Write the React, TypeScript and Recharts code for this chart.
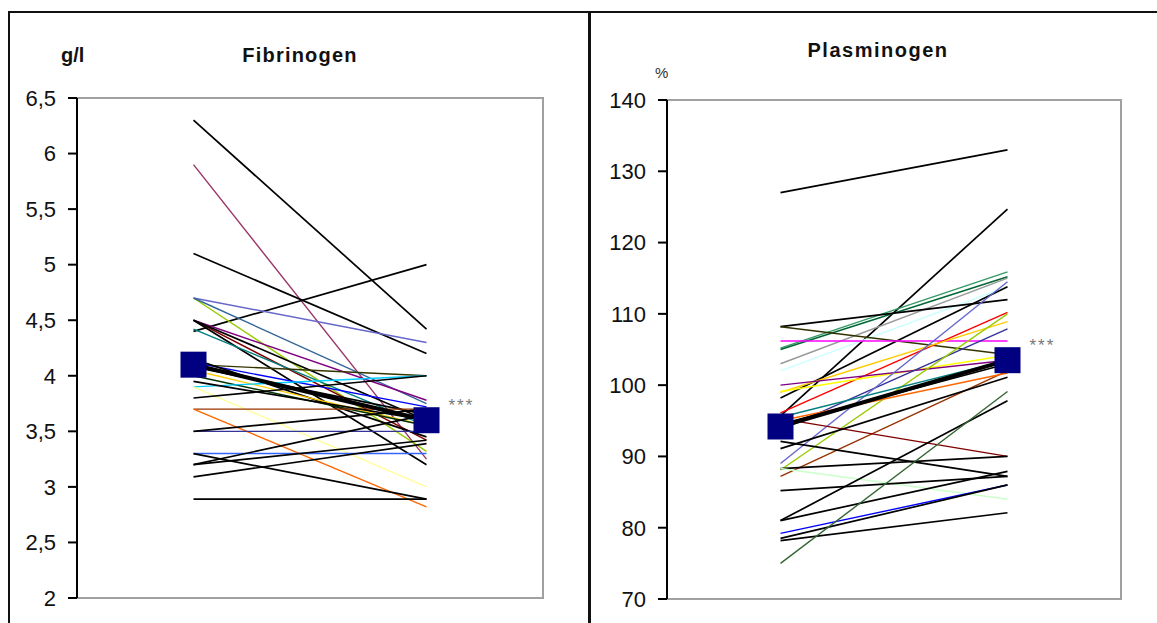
import { LineChart, Line, XAxis, YAxis, ReferenceArea } from 'recharts'

// Fibrinogen (g/l): value before -> value after, one line per patient
const fibBefore = [6.3, 5.9, 5.1, 4.4, 4.7, 4.7, 4.7, 4.5, 4.5, 4.5, 4.42, 4.5, 4.1, 4.12, 4.15, 4.05, 4.0, 4.08, 3.9, 3.9, 3.8, 3.7, 3.7, 3.5, 3.5, 3.3, 3.3, 3.2, 3.2, 3.09, 2.89, 3.95]
const fibAfter = [4.42, 3.25, 4.2, 5.0, 4.3, 3.32, 3.75, 3.42, 3.78, 3.2, 3.55, 3.6, 4.0, 3.72, 3.45, 3.55, 3.55, 3.65, 4.0, 3.0, 4.0, 3.7, 2.82, 3.5, 3.7, 3.3, 2.89, 3.42, 3.65, 3.39, 2.89, 3.6]
const fibColors = ['#000', '#993366', '#000', '#000', '#6666cc', '#99cc00', '#336699', '#800000', '#800080', '#000', '#008080', '#000', '#333300', '#0000ff', '#000', '#ffcc00', '#003300', '#000', '#00ccff', '#ffff99', '#000', '#993300', '#ff6600', '#333399', '#000', '#3366ff', '#000', '#000', '#000', '#000', '#000', '#000']
const fibMean = [4.1, 3.6]
const fibTicks = [2, 2.5, 3, 3.5, 4, 4.5, 5, 5.5, 6, 6.5]

// Plasminogen (%)
const plasBefore = [127, 95.7, 105.2, 105, 103, 102, 98.2, 108.2, 108.2, 106.2, 96.1, 99, 99.1, 100, 93.7, 89, 88.1, 87.2, 95.5, 95, 95.3, 92.1, 91.1, 88.3, 88.3, 85.2, 81, 81, 79.2, 78.5, 78.2, 75, 94.5]
const plasAfter = [133, 124.7, 115.9, 115.2, 115, 113.8, 113.8, 112, 104.3, 106.2, 110.2, 108.9, 104.2, 103.5, 107.9, 114.5, 110, 102, 103.5, 101.7, 90, 87.2, 101.1, 90, 84, 87.2, 97.8, 87.9, 86, 86, 82.1, 99.1, 103]
const plasColors = ['#000', '#000', '#339966', '#006633', '#999999', '#ccffff', '#000', '#000', '#333300', '#ff00ff', '#ff0000', '#ffcc00', '#ffff00', '#800080', '#333399', '#6666cc', '#99cc00', '#993300', '#008080', '#ff6600', '#800000', '#000', '#000', '#000', '#ccffcc', '#000', '#000', '#000', '#0000ff', '#000', '#000', '#336633', '#000']
const plasMean = [94.2, 103.5]
const plasTicks = [70, 80, 90, 100, 110, 120, 130, 140]

const xPos = [0.5, 1.5]

const font = '"Liberation Sans", Arial, sans-serif'

function buildRows(before: number[], after: number[], mean: number[]) {
  return xPos.map((x, i) => {
    const row: Record<string, number> = { x, mean: mean[i] }
    const src = i === 0 ? before : after
    src.forEach((v, k) => {
      row['s' + k] = v
    })
    return row
  })
}

const squareDot = (props: any) => (
  <rect
    key={'sq' + props.index}
    x={props.cx - 13}
    y={props.cy - 13}
    width={26}
    height={26}
    fill="#000080"
  />
)

const stars = (props: any) =>
  props.index === 1 ? (
    <text
      key="stars"
      x={props.x + 22}
      y={props.y - 9}
      fontSize={17}
      letterSpacing={2}
      fill="#777"
      fontFamily={font}
    >
      ***
    </text>
  ) : null

function Panel({
  before,
  after,
  colors,
  mean,
  ticks,
  domain,
  comma,
  margin,
  width,
}: {
  before: number[]
  after: number[]
  colors: string[]
  mean: number[]
  ticks: number[]
  domain: [number, number]
  comma: boolean
  margin: { top: number; right: number; bottom: number; left: number }
  width: number
}) {
  const rows = buildRows(before, after, mean)
  return (
    <LineChart width={width} height={623} data={rows} margin={margin}>
      <ReferenceArea
        x1={0}
        x2={2}
        y1={domain[0]}
        y2={domain[1]}
        fill="none"
        stroke="#a0a0a0"
        strokeWidth={2}
      />
      <XAxis dataKey="x" type="number" domain={[0, 2]} hide />
      <YAxis
        domain={domain}
        ticks={ticks}
        width={60}
        interval={0}
        tickSize={9}
        tickMargin={12}
        axisLine={{ stroke: '#000', strokeWidth: 2 }}
        tickLine={{ stroke: '#000', strokeWidth: 2 }}
        tick={{ fontSize: 22, fill: '#111', fontFamily: font }}
        tickFormatter={(v: number) => (comma ? String(v).replace('.', ',') : String(v))}
      />
      {colors.map((c, k) => (
        <Line
          key={k}
          dataKey={'s' + k}
          stroke={c}
          strokeWidth={c === '#000' ? 1.7 : 1.4}
          dot={false}
          activeDot={false}
          isAnimationActive={false}
        />
      ))}
      <Line
        dataKey="mean"
        stroke="#000"
        strokeWidth={4}
        dot={squareDot}
        activeDot={false}
        label={stars}
        isAnimationActive={false}
      />
    </LineChart>
  )
}

export default function App() {
  return (
    <div
      style={{
        position: 'absolute',
        left: 0,
        top: 0,
        width: 1157,
        height: 623,
        background: '#fff',
        overflow: 'hidden',
        fontFamily: font,
      }}
    >
      {/* frame */}
      <div style={{ position: 'absolute', left: 9, top: 11, width: 1148, height: 2, background: '#111' }} />
      <div style={{ position: 'absolute', left: 8, top: 11, width: 2, height: 612, background: '#111' }} />
      <div style={{ position: 'absolute', left: 588, top: 11, width: 3, height: 612, background: '#111' }} />

      <div style={{ position: 'absolute', left: 0, top: 0 }}>
        <Panel
          before={fibBefore}
          after={fibAfter}
          colors={fibColors}
          mean={fibMean}
          ticks={fibTicks}
          domain={[2, 6.5]}
          comma
          width={590}
          margin={{ top: 98, right: 47, bottom: 25, left: 17 }}
        />
      </div>
      <div style={{ position: 'absolute', left: 590, top: 0 }}>
        <Panel
          before={plasBefore}
          after={plasAfter}
          colors={plasColors}
          mean={plasMean}
          ticks={plasTicks}
          domain={[70, 140]}
          comma={false}
          width={567}
          margin={{ top: 100, right: 36, bottom: 24, left: 17 }}
        />
      </div>

      <div style={{ position: 'absolute', left: 61, top: 44, fontSize: 20, fontWeight: 'bold', color: '#111' }}>g/l</div>
      <div
        style={{
          position: 'absolute',
          left: 200,
          width: 200,
          top: 44,
          textAlign: 'center',
          fontSize: 20,
          fontWeight: 'bold',
          letterSpacing: 1.2,
          color: '#111',
        }}
      >
        Fibrinogen
      </div>
      <div
        style={{
          position: 'absolute',
          left: 778,
          width: 200,
          top: 39,
          textAlign: 'center',
          fontSize: 20,
          fontWeight: 'bold',
          letterSpacing: 1.5,
          color: '#111',
        }}
      >
        Plasminogen
      </div>
      <div style={{ position: 'absolute', left: 655, top: 64, fontSize: 15, color: '#333' }}>%</div>
    </div>
  )
}
